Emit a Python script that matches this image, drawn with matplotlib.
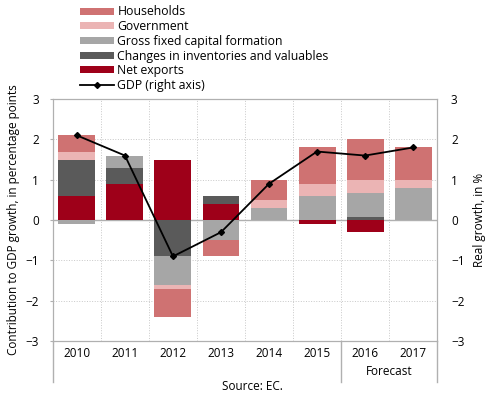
import numpy as np
import matplotlib.pyplot as plt

plt.rcParams['font.family'] = ['Open Sans', 'DejaVu Sans']

years = ['2010', '2011', '2012', '2013', '2014', '2015', '2016', '2017']
households = [0.4, 0.0, -0.7, -0.4, 0.5, 0.9, 1.0, 0.8]
government = [0.2, 0.0, -0.1, 0.0, 0.2, 0.3, 0.33, 0.2]
gfcf = [-0.1, 0.3, -0.7, -0.5, 0.3, 0.6, 0.6, 0.8]
inventories = [0.9, 0.4, -0.9, 0.2, 0.0, 0.0, 0.07, 0.0]
net_exports = [0.6, 0.9, 1.5, 0.4, 0.0, -0.1, -0.3, 0.0]
gdp = [2.1, 1.6, -0.9, -0.3, 0.9, 1.7, 1.6, 1.8]

series = [
    ('Net exports', net_exports, '#9e0019'),
    ('Changes in inventories and valuables', inventories, '#5a5a5a'),
    ('Gross fixed capital formation', gfcf, '#a6a6a6'),
    ('Government', government, '#ebb4b4'),
    ('Households', households, '#cf7272'),
]

fig = plt.figure(figsize=(4.9, 3.98), dpi=100)
ax = fig.add_axes([0.108, 0.143, 0.784, 0.608])
x = np.arange(len(years))

pos = np.zeros(len(years))
neg = np.zeros(len(years))
handles = {}
for name, vals, col in series:
    v = np.array(vals)
    base = np.where(v >= 0, pos, neg)
    b = ax.bar(x, v, 0.77, bottom=base, color=col, zorder=2)
    handles[name] = b
    pos = pos + np.where(v >= 0, v, 0)
    neg = neg + np.where(v < 0, v, 0)

ax.axhline(0, color='#b0b0b0', lw=1, zorder=1)
ax.set_xlim(-0.5, len(years) - 0.5)
ax.set_ylim(-3, 3)
ax.set_yticks(range(-3, 4))
ax.set_xticks(x)
ax.set_xticklabels(years, fontsize=8.5)
ax.tick_params(axis='x', length=0, pad=4)
ax.tick_params(axis='y', labelsize=8.5, length=2, color='#b0b0b0', pad=8)
for xb in np.arange(0.5, len(years) - 0.5, 1):
    ax.axvline(xb, color='#c8c8c8', lw=0.7, ls=':', zorder=0)
for yv in [-2, -1, 1, 2]:
    ax.axhline(yv, color='#c8c8c8', lw=0.7, ls=':', zorder=0)
for s in ax.spines.values():
    s.set_color('#b0b0b0')
ax.set_ylabel('Contribution to GDP growth, in percentage points', fontsize=8.5, labelpad=4)

ax2 = ax.twinx()
gdp_line, = ax2.plot(x, gdp, color='black', lw=1.3, marker='D', ms=3, zorder=5)
ax2.set_ylim(-3, 3)
ax2.set_yticks(range(-3, 4))
ax2.tick_params(axis='y', labelsize=8.5, length=0, pad=10)
for s in ax2.spines.values():
    s.set_color('#b0b0b0')
ax2.set_ylabel('Real growth, in %', fontsize=8.5, labelpad=6)

# separators below the axis
for xs in [-0.5, 5.5, 7.5]:
    ax.plot([xs, xs], [-3, -4.02], color='#b0b0b0', lw=1, clip_on=False)
ax.text(6.5, -3.75, 'Forecast', ha='center', va='center', fontsize=8.5)
ax.text(3.65, -4.13, 'Source: EC.', ha='center', va='center', fontsize=8.5)

order = ['Households', 'Government', 'Gross fixed capital formation',
         'Changes in inventories and valuables', 'Net exports']
hs = [handles[n] for n in order] + [gdp_line]
labels = order + ['GDP (right axis)']
fig.legend(hs, labels, loc='upper left', bbox_to_anchor=(0.145, 1.008),
           frameon=False, fontsize=8.8, handlelength=2.8, handleheight=0.5,
           labelspacing=0.14, handletextpad=0.3, borderpad=0.2)

fig.savefig('out.png', dpi=100)
